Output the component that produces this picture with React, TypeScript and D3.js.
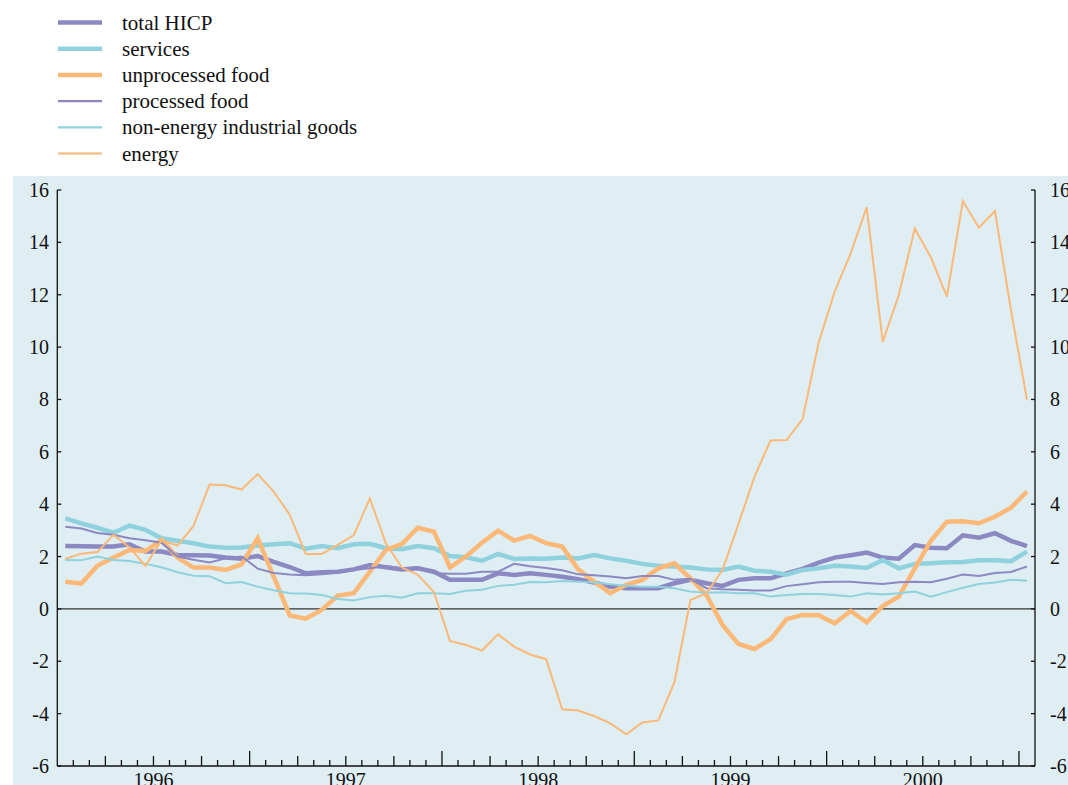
import React, { useEffect, useRef } from "react";
import * as d3 from "d3";

const years = ["1996", "1997", "1998", "1999", "2000"];
const yTicks = [-6, -4, -2, 0, 2, 4, 6, 8, 10, 12, 14, 16];

// Monthly year-on-year rates, Jan 1996 .. Jan 2001
const totalHICP = [
  2.40, 2.39, 2.38, 2.38, 2.47, 2.19, 2.19, 2.06, 2.05, 2.04, 1.96, 1.92,
  2.02, 1.80, 1.60, 1.36, 1.40, 1.42, 1.51, 1.68, 1.59, 1.51, 1.55, 1.42,
  1.11, 1.11, 1.11, 1.36, 1.30, 1.36, 1.30, 1.23, 1.13, 1.01, 0.85, 0.79,
  0.79, 0.79, 0.98, 1.11, 0.98, 0.88, 1.11, 1.17, 1.17, 1.36, 1.53, 1.77,
  1.96, 2.05, 2.15, 1.96, 1.92, 2.44, 2.34, 2.32, 2.81, 2.72, 2.89, 2.60,
  2.40,
];
const services = [
  3.46, 3.27, 3.10, 2.91, 3.18, 3.02, 2.70, 2.60, 2.51, 2.38, 2.34, 2.35,
  2.42, 2.47, 2.51, 2.30, 2.40, 2.32, 2.47, 2.49, 2.32, 2.28, 2.40, 2.32,
  2.02, 1.97, 1.84, 2.10, 1.91, 1.93, 1.92, 1.96, 1.93, 2.06, 1.93, 1.84,
  1.72, 1.65, 1.62, 1.58, 1.51, 1.49, 1.62, 1.46, 1.42, 1.31, 1.49, 1.55,
  1.65, 1.62, 1.56, 1.87, 1.55, 1.72, 1.74, 1.78, 1.79, 1.86, 1.86, 1.82,
  2.19,
];
const unprocessedFood = [
  1.04, 0.97, 1.65, 1.96, 2.25, 2.21, 2.63, 1.96, 1.58, 1.58, 1.49, 1.70,
  2.70, 1.23, -0.25, -0.37, -0.04, 0.51, 0.60, 1.42, 2.25, 2.48, 3.10, 2.95,
  1.59, 2.00, 2.53, 2.99, 2.61, 2.79, 2.51, 2.38, 1.51, 1.04, 0.60, 0.92,
  1.11, 1.55, 1.74, 1.17, 0.53, -0.61, -1.34, -1.53, -1.16, -0.39, -0.23, -0.24,
  -0.55, -0.08, -0.51, 0.11, 0.47, 1.55, 2.60, 3.33, 3.35, 3.27, 3.52, 3.87,
  4.48,
];
const processedFood = [
  3.14, 3.07, 2.90, 2.83, 2.70, 2.62, 2.53, 2.00, 1.88, 1.77, 1.93, 2.00,
  1.54, 1.37, 1.31, 1.29, 1.32, 1.39, 1.49, 1.55, 1.64, 1.55, 1.59, 1.36,
  1.34, 1.34, 1.42, 1.42, 1.72, 1.63, 1.56, 1.48, 1.32, 1.29, 1.24, 1.17,
  1.26, 1.26, 1.11, 1.15, 0.79, 0.75, 0.73, 0.70, 0.70, 0.87, 0.94, 1.02,
  1.04, 1.04, 0.99, 0.95, 1.02, 1.04, 1.02, 1.15, 1.31, 1.26, 1.37, 1.41,
  1.62,
];
const nonEnergyGoods = [
  1.87, 1.86, 2.00, 1.87, 1.83, 1.72, 1.59, 1.40, 1.27, 1.25, 0.98, 1.03,
  0.85, 0.71, 0.60, 0.59, 0.53, 0.38, 0.32, 0.45, 0.50, 0.43, 0.60, 0.60,
  0.57, 0.69, 0.73, 0.88, 0.92, 1.03, 1.02, 1.07, 1.04, 1.01, 0.94, 0.88,
  0.85, 0.85, 0.79, 0.66, 0.62, 0.64, 0.60, 0.60, 0.47, 0.53, 0.57, 0.57,
  0.53, 0.47, 0.60, 0.55, 0.60, 0.66, 0.47, 0.64, 0.81, 0.95, 1.01, 1.11,
  1.08,
];
const energy = [
  1.91, 2.11, 2.17, 2.83, 2.35, 1.65, 2.62, 2.42, 3.17, 4.75, 4.72, 4.56,
  5.15, 4.48, 3.60, 2.10, 2.10, 2.45, 2.82, 4.22, 2.50, 1.58, 1.30, 0.64,
  -1.22, -1.38, -1.59, -0.97, -1.44, -1.74, -1.92, -3.83, -3.88, -4.09, -4.37, -4.79,
  -4.34, -4.26, -2.81, 0.34, 0.60, 1.48, 3.25, 5.05, 6.43, 6.45, 7.25, 10.17,
  12.12, 13.58, 15.34, 10.20, 11.99, 14.53, 13.43, 11.93, 15.58, 14.56, 15.20, 11.41,
  7.99,
];

const seriesNames = [
  "total HICP",
  "services",
  "unprocessed food",
  "processed food",
  "non-energy industrial goods",
  "energy",
];
const seriesData = [totalHICP, services, unprocessedFood, processedFood, nonEnergyGoods, energy];
const PURPLE = "#8c88c2";
const CYAN = "#8fd1dd";
const ORANGE = "#fbb877";
const seriesColors = [PURPLE, CYAN, ORANGE, PURPLE, CYAN, ORANGE];
const seriesWidths = [4.5, 4.5, 4.5, 2, 2, 2];

const W = 1068;
const H = 785;
const FONT = "'Liberation Serif', 'Times New Roman', Times, serif";

export default function App() {
  const ref = useRef<SVGSVGElement | null>(null);

  useEffect(() => {
    const svg = d3.select(ref.current);
    svg.selectAll("*").remove();

    const nMonths = 61;
    const x = d3.scaleLinear().domain([0, nMonths]).range([57.3, 1035]);
    const y = d3.scaleLinear().domain([-6, 16]).range([766, 190]);

    // background
    svg.append("rect").attr("x", 13).attr("y", 176).attr("width", W - 13).attr("height", H - 176).attr("fill", "#dfeef3");

    // legend
    const lg = svg.append("g");
    seriesNames.forEach((name, k) => {
      const ly = 22.5 + 26.2 * k;
      lg.append("line").attr("x1", 58).attr("x2", 102).attr("y1", ly).attr("y2", ly)
        .attr("stroke", seriesColors[k]).attr("stroke-width", seriesWidths[k] === 2 ? 2.2 : 4.5);
      lg.append("text").attr("x", 122).attr("y", ly + 7).text(name)
        .attr("font-family", FONT).attr("font-size", 21).attr("fill", "#111");
    });

    // zero line
    svg.append("line").attr("x1", x(0)).attr("x2", x(nMonths)).attr("y1", y(0)).attr("y2", y(0))
      .attr("stroke", "#333").attr("stroke-width", 1.4);

    // series
    const line = d3.line<number>().x((_, i) => x(i + 0.5)).y((d) => y(d));
    seriesData.forEach((data, k) => {
      svg.append("path").attr("d", line(data) as string).attr("fill", "none")
        .attr("stroke", seriesColors[k]).attr("stroke-width", seriesWidths[k])
        .attr("stroke-linejoin", "miter").attr("stroke-miterlimit", 3);
    });

    // axes
    const ax = svg.append("g").attr("stroke", "#111").attr("stroke-width", 1.3);
    ax.append("line").attr("x1", x(0)).attr("x2", x(0)).attr("y1", y(16)).attr("y2", y(-6));
    ax.append("line").attr("x1", x(nMonths)).attr("x2", x(nMonths)).attr("y1", y(16)).attr("y2", y(-6));
    ax.append("line").attr("x1", x(0)).attr("x2", x(nMonths)).attr("y1", y(-6)).attr("y2", y(-6));

    yTicks.forEach((t) => {
      ax.append("line").attr("x1", x(0)).attr("x2", x(0) + 4).attr("y1", y(t)).attr("y2", y(t));
      ax.append("line").attr("x1", x(nMonths)).attr("x2", x(nMonths) - 4).attr("y1", y(t)).attr("y2", y(t));
      svg.append("text").attr("x", 49).attr("y", y(t) + 7).attr("text-anchor", "end")
        .attr("font-family", FONT).attr("font-size", 20).attr("fill", "#111").text(String(t));
      svg.append("text").attr("x", 1050).attr("y", y(t) + 7).attr("text-anchor", "start")
        .attr("font-family", FONT).attr("font-size", 20).attr("fill", "#111").text(String(t));
    });

    for (let m = 1; m < nMonths; m++) {
      const len = m % 12 === 0 ? 15 : m % 3 === 0 ? 10 : 6;
      ax.append("line").attr("x1", x(m)).attr("x2", x(m)).attr("y1", y(-6)).attr("y2", y(-6) - len);
    }

    years.forEach((yr, k) => {
      svg.append("text").attr("x", x(12 * k + 6)).attr("y", 787).attr("text-anchor", "middle")
        .attr("font-family", FONT).attr("font-size", 20).attr("fill", "#111").text(yr);
    });
  }, []);

  return (
    <svg ref={ref} width={W} height={H} style={{ position: "absolute", left: 0, top: 0, background: "#fff" }} />
  );
}
